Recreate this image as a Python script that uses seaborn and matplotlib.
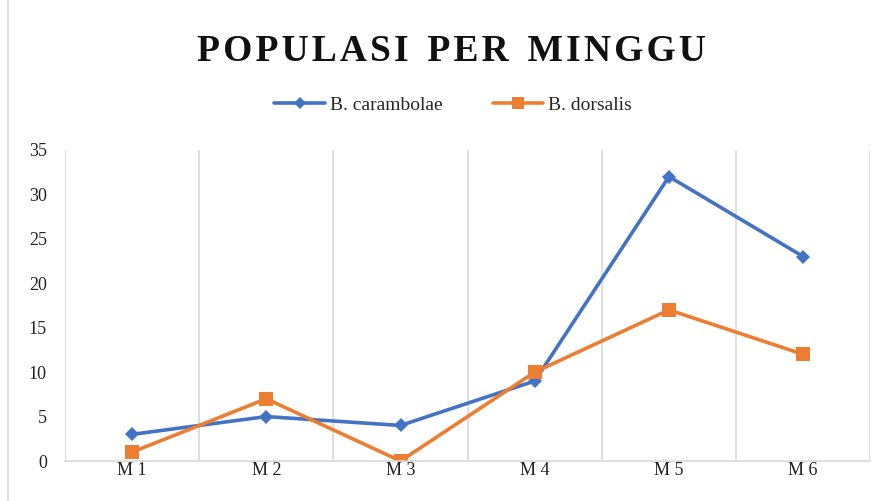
import numpy as np
import pandas as pd
import matplotlib.pyplot as plt
from matplotlib.lines import Line2D
import seaborn as sns

weeks = ["M1", "M2", "M3", "M4", "M5", "M6"]
week_labels = ["M 1", "M 2", "M 3", "M 4", "M 5", "M 6"]
carambolae = [3, 5, 4, 9, 32, 23]
dorsalis = [1, 7, 0, 10, 17, 12]
series_names = ["B. carambolae", "B. dorsalis"]
title = "POPULASI PER MINGGU"

df = pd.DataFrame({
    "week": list(range(len(weeks))) * 2,
    "value": carambolae + dorsalis,
    "species": [series_names[0]] * len(weeks) + [series_names[1]] * len(weeks),
})

sns.set_style("white")
plt.rcParams["font.family"] = ["Liberation Serif", "DejaVu Serif"]

fig = plt.figure(figsize=(8.85, 5.01), dpi=100)
ax = fig.add_axes([0.0734, 0.0798, 0.910, 0.621])

palette = {series_names[0]: "#4472C4", series_names[1]: "#ED7D31"}
markers = {series_names[0]: "D", series_names[1]: "s"}
sizes_ms = {series_names[0]: 7, series_names[1]: 10}

sns.lineplot(data=df, x="week", y="value", hue="species", style="species",
             palette=palette, markers=markers, dashes=False, linewidth=2.6,
             ax=ax, legend=False)
for line, name in zip(ax.lines, series_names):
    line.set_markersize(sizes_ms[name])
    line.set_markeredgewidth(0)

ax.set_xlim(-0.5, len(weeks) - 0.5)
ax.set_ylim(0, 35)
ax.set_yticks(range(0, 36, 5))
ax.set_xticks(range(len(weeks)))
ax.set_xticklabels(week_labels)
ax.tick_params(axis="both", length=0, labelsize=13, colors="#222222")
ax.tick_params(axis="y", pad=13)
ax.tick_params(axis="x", pad=1)
ax.set_xlabel("")
ax.set_ylabel("")

for b in np.arange(-0.5, len(weeks), 1.0):
    ax.axvline(b, color="#D9D9D9", linewidth=1.2, zorder=0)
for s in ["top", "right", "left"]:
    ax.spines[s].set_visible(False)
ax.spines["bottom"].set_color("#D9D9D9")
ax.spines["bottom"].set_linewidth(1.2)

handles = [Line2D([0], [0], color=palette[n], marker=markers[n], markersize=sizes_ms[n] - 1,
                  markeredgewidth=0, linewidth=2.6) for n in series_names]
fig.legend(handles, series_names, loc="center", bbox_to_anchor=(0.512, 0.79), ncol=2,
           frameon=False, fontsize=14, handlelength=2.6, handletextpad=0.25, columnspacing=2.6)

spaced = "\u200a".join(title).replace("\u200a \u200a", "\u2002")
fig.text(0.51, 0.897, spaced, ha="center", va="center",
         fontsize=27, fontweight="bold", color="#111111")

fig.add_artist(Line2D([8 / 885, 8 / 885], [0, 1], color="#D9D9D9", linewidth=1.2,
                      transform=fig.transFigure))

fig.savefig("out.png", dpi=100, facecolor="white")
